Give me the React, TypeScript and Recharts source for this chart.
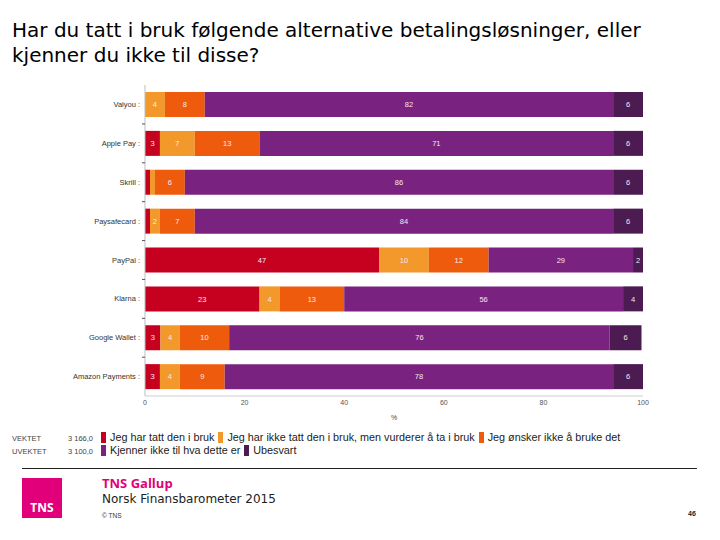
import { BarChart, Bar, XAxis, YAxis, LabelList } from 'recharts';

const categories = ['Valyou', 'Apple Pay', 'Skrill', 'Paysafecard', 'PayPal', 'Klarna', 'Google Wallet', 'Amazon Payments'];
const brukt = [0, 3, 1, 1, 47, 23, 3.1, 3];
const vurderer = [4, 7, 1, 2, 10, 4, 3.9, 4];
const onskerIkke = [8, 13, 6, 7, 12, 13, 9.9, 9];
const kjennerIkke = [82, 71, 86, 84, 29, 56, 76.4, 78];
const ubesvart = [6, 6, 6, 6, 2, 4, 6.4, 6];
const xTicks = [0, 20, 40, 60, 80, 100];

const seriesKeys = ['brukt', 'vurderer', 'onskerIkke', 'kjennerIkke', 'ubesvart'];
const seriesNames = [
  'Jeg har tatt den i bruk',
  'Jeg har ikke tatt den i bruk, men vurderer å ta i bruk',
  'Jeg ønsker ikke å bruke det',
  'Kjenner ikke til hva dette er',
  'Ubesvart',
];
const seriesColors = ['#c6001f', '#f3982b', '#ef5b0c', '#79227f', '#4b1b52'];

const weightLabels = ['VEKTET', 'UVEKTET'];
const weightValues = ['3 166,0', '3 100,0'];

const data = categories.map((name, i) => ({
  name,
  brukt: brukt[i],
  vurderer: vurderer[i],
  onskerIkke: onskerIkke[i],
  kjennerIkke: kjennerIkke[i],
  ubesvart: ubesvart[i],
}));

const PINK = '#e2007a';

const renderLabel = (props: any) => {
  const { x, y, width, height, value } = props;
  if (value < 1.5) return null;
  return (
    <text
      x={x + width / 2}
      y={y + height / 2}
      dy="0.35em"
      textAnchor="middle"
      fontSize={7.5}
      fill="#f7e8f0"
      fontFamily="Liberation Sans, Arial, sans-serif"
    >
      {Math.round(value)}
    </text>
  );
};

const CategoryTick = (props: any) => {
  const { x, y, payload, index } = props;
  return (
    <g>
      <text
        x={x}
        y={y}
        dy="0.35em"
        textAnchor="end"
        fontSize={7.5}
        fill="#333"
        fontFamily="Liberation Sans, Arial, sans-serif"
      >
        {payload.value} :
      </text>
      {index < categories.length - 1 && (
        <line x1={x + 2} x2={x + 5} y1={y + 19.5} y2={y + 19.5} stroke="#555" strokeWidth={1} />
      )}
    </g>
  );
};

export default function App() {
  return (
    <div
      style={{
        position: 'absolute',
        left: 0,
        top: 0,
        width: 720,
        height: 540,
        background: '#fff',
        overflow: 'hidden',
        fontFamily: 'Liberation Sans, Arial, sans-serif',
      }}
    >
      <div
        style={{
          position: 'absolute',
          left: 12,
          top: 18,
          fontFamily: 'DejaVu Sans, Verdana, sans-serif',
          fontSize: 20,
          lineHeight: '25px',
          color: '#000',
          whiteSpace: 'nowrap',
        }}
      >
        Har du tatt i bruk følgende alternative betalingsløsninger, eller
        <br />
        kjenner du ikke til disse?
      </div>

      <div style={{ position: 'absolute', left: 0, top: 0 }}>
        <BarChart
          width={720}
          height={540}
          data={data}
          layout="vertical"
          margin={{ top: 85, right: 77, bottom: 116, left: 5 }}
          barSize={25}
        >
          <XAxis
            type="number"
            domain={[0, 100]}
            ticks={xTicks}
            height={28}
            axisLine={{ stroke: '#cfcfcf' }}
            tickLine={false}
            tickSize={0}
            tickMargin={4}
            tick={{ fontSize: 7, fill: '#555', fontFamily: 'Liberation Sans, Arial, sans-serif' }}
            label={{ value: '%', position: 'insideBottom', offset: 4, fontSize: 7, fill: '#444' }}
          />
          <YAxis
            type="category"
            dataKey="name"
            width={140}
            axisLine={{ stroke: '#bdbdbd' }}
            tickLine={false}
            tickSize={0}
            tickMargin={5}
            interval={0}
            tick={<CategoryTick />}
          />
          {seriesKeys.map((k, i) => (
            <Bar key={k} dataKey={k} stackId="a" fill={seriesColors[i]} isAnimationActive={false}>
              <LabelList dataKey={k} content={renderLabel} />
            </Bar>
          ))}
        </BarChart>
      </div>

      {weightLabels.map((w, i) => (
        <div key={w}>
          <div style={{ position: 'absolute', left: 12, top: 434 + i * 13, fontSize: 7.5, color: '#444' }}>{w}</div>
          <div style={{ position: 'absolute', left: 68, top: 434 + i * 13, fontSize: 7.5, color: '#444' }}>
            {weightValues[i]}
          </div>
        </div>
      ))}

      <div
        style={{
          position: 'absolute',
          left: 101,
          top: 431,
          width: 580,
          fontSize: 10.8,
          lineHeight: '13px',
          color: '#222',
        }}
      >
        {[
          [0, 1, 2],
          [3, 4],
        ].map((row, r) => (
          <div key={r} style={{ display: 'flex', whiteSpace: 'nowrap' }}>
            {row.map((i) => (
              <span key={i} style={{ display: 'inline-flex', alignItems: 'center', marginRight: 4 }}>
                <span
                  style={{ display: 'inline-block', width: 5, height: 11, background: seriesColors[i], marginRight: 4 }}
                />
                {seriesNames[i]}
              </span>
            ))}
          </div>
        ))}
      </div>

      <div style={{ position: 'absolute', left: 22, top: 468, width: 675, height: 1, background: '#222' }} />

      <div style={{ position: 'absolute', left: 22, top: 478, width: 40, height: 40, background: PINK }}>
        <div
          style={{
            position: 'absolute',
            left: 0,
            width: 40,
            bottom: 2,
            textAlign: 'center',
            color: '#fff',
            fontWeight: 700,
            fontSize: 12,
            lineHeight: '16px',
            fontFamily: 'Open Sans, sans-serif',
          }}
        >
          TNS
        </div>
      </div>
      <div
        style={{
          position: 'absolute',
          left: 102,
          top: 476,
          color: PINK,
          fontWeight: 700,
          fontSize: 13,
          lineHeight: '15px',
          fontFamily: 'Open Sans, sans-serif',
        }}
      >
        TNS Gallup
      </div>
      <div
        style={{
          position: 'absolute',
          left: 102,
          top: 492,
          color: '#222',
          fontSize: 12,
          lineHeight: '14px',
          fontFamily: 'DejaVu Sans, Verdana, sans-serif',
        }}
      >
        Norsk Finansbarometer 2015
      </div>
      <div style={{ position: 'absolute', left: 102, top: 512, color: '#333', fontSize: 6.5, lineHeight: '8px' }}>
        © TNS
      </div>
      <div style={{ position: 'absolute', left: 688, top: 510, color: '#222', fontSize: 7, fontWeight: 700, lineHeight: '8px' }}>
        46
      </div>
    </div>
  );
}
